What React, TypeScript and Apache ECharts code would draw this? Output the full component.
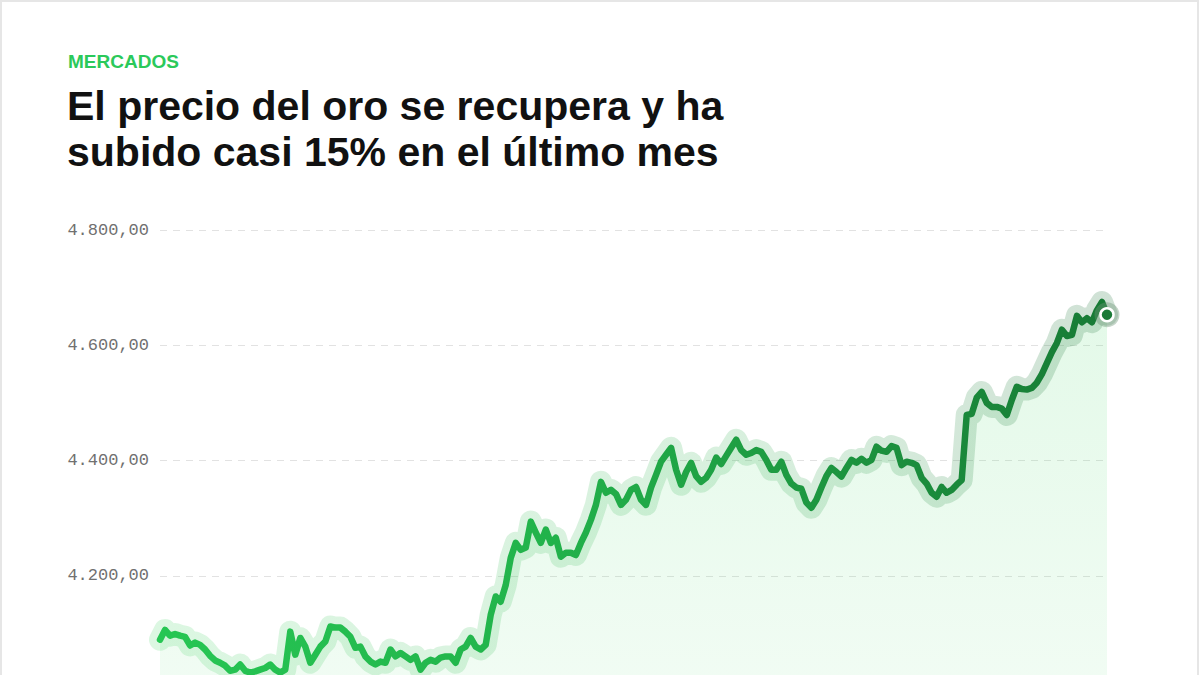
import React, { useEffect, useRef } from "react";
import * as echarts from "echarts";

const kicker = "MERCADOS";
const titleLines = ["El precio del oro se recupera y ha", "subido casi 15% en el último mes"];

const yTicks = [4000, 4200, 4400, 4600, 4800];
const yTickLabels = ["4.000,00", "4.200,00", "4.400,00", "4.600,00", "4.800,00"];

const prices = [
  4089, 4106, 4096, 4099, 4096, 4094, 4079, 4084, 4080, 4072,
  4061, 4053, 4049, 4044, 4035, 4037, 4046, 4035, 4032, 4034,
  4037, 4040, 4046, 4037, 4032, 4037, 4103, 4063, 4092, 4077,
  4049, 4063, 4077, 4086, 4112, 4110, 4110, 4103, 4094, 4075,
  4077, 4060, 4051, 4046, 4051, 4049, 4072, 4060, 4066, 4060,
  4054, 4060, 4037, 4049, 4054, 4051, 4058, 4060, 4060, 4049,
  4072, 4077, 4092, 4077, 4072, 4080, 4132, 4164, 4155, 4184,
  4231, 4257, 4245, 4249, 4294, 4275, 4257, 4280, 4257, 4266,
  4233, 4240, 4240, 4236, 4257, 4275, 4297, 4323, 4363, 4344,
  4349, 4342, 4323, 4332, 4349, 4354, 4332, 4323, 4353, 4375,
  4398, 4410, 4422, 4384, 4358, 4380, 4396, 4373, 4363, 4370,
  4384, 4405, 4394, 4408, 4422, 4436, 4418, 4410, 4413, 4418,
  4415, 4401, 4384, 4384, 4398, 4375, 4360, 4353, 4351, 4327,
  4318, 4332, 4353, 4373, 4387, 4380, 4372, 4387, 4401, 4396,
  4403, 4396, 4401, 4424, 4417, 4415, 4425, 4422, 4392, 4398,
  4396, 4392, 4370, 4360, 4344, 4337, 4354, 4344, 4349, 4358,
  4366, 4479, 4481, 4509, 4519, 4500, 4493, 4493, 4490, 4479,
  4505, 4528, 4524, 4523, 4526, 4535, 4550, 4569, 4588, 4604,
  4627, 4616, 4618, 4651, 4640, 4647, 4640, 4661, 4675, 4653,
];

const categories = prices.map((_, i) => String(i + 1));

export default function App() {
  const ref = useRef<HTMLDivElement>(null);

  useEffect(() => {
    document.body.style.margin = "0";
    document.body.style.overflow = "hidden";
    document.documentElement.style.overflow = "hidden";
    if (!ref.current) return;
    const chart = echarts.init(ref.current, undefined, { renderer: "svg" });
    const lastIdx = prices.length - 1;
    const lastVal = prices[lastIdx];

    chart.setOption({
      animation: false,
      backgroundColor: "#ffffff",
      grid: { left: 160, right: 93, top: 230, bottom: 29 },
      xAxis: {
        type: "category",
        data: categories,
        boundaryGap: false,
        axisLine: { show: false },
        axisTick: { show: false },
        axisLabel: { show: false },
        splitLine: { show: false },
      },
      yAxis: {
        type: "value",
        min: yTicks[0],
        max: yTicks[yTicks.length - 1],
        interval: 200,
        axisLine: { show: false },
        axisTick: { show: false },
        axisLabel: {
          margin: 11,
          color: "#707070",
          fontSize: 17,
          fontFamily: "Liberation Mono",
          showMinLabel: false,
          formatter: (v: number) => {
            const i = yTicks.indexOf(v);
            return i > 0 ? yTickLabels[i] : "";
          },
        },
        splitLine: {
          show: true,
          lineStyle: { color: "#e2e2e2", width: 1, type: [7, 6] },
        },
      },
      graphic: [
        {
          type: "rect",
          shape: { x: 1, y: 1, width: 1197, height: 760 },
          style: { fill: "none", stroke: "#e6e6e6", lineWidth: 2 },
          silent: true,
          z: 100,
        },
        {
          type: "text",
          x: 68,
          y: 61,
          style: {
            text: kicker,
            fill: "#2bc95a",
            font: 'bold 19px "Liberation Sans", Arial, sans-serif',
            verticalAlign: "middle",
          },
        },
        {
          type: "text",
          x: 67,
          y: 106,
          style: {
            text: titleLines[0],
            fill: "#111111",
            font: 'bold 41px "Liberation Sans", Arial, sans-serif',
            verticalAlign: "middle",
          },
        },
        {
          type: "text",
          x: 67,
          y: 152,
          style: {
            text: titleLines[1],
            fill: "#111111",
            font: 'bold 41px "Liberation Sans", Arial, sans-serif',
            verticalAlign: "middle",
          },
        },
      ],
      series: [
        {
          type: "line",
          data: prices,
          symbol: "none",
          silent: true,
          lineStyle: {
            width: 22,
            cap: "round",
            join: "round",
            color: new echarts.graphic.LinearGradient(0, 0, 1, 0, [
              { offset: 0, color: "rgba(80,215,110,0.2)" },
              { offset: 0.6, color: "rgba(60,180,90,0.2)" },
              { offset: 1, color: "rgba(40,120,65,0.22)" },
            ]),
          },
          areaStyle: {
            origin: "start",
            color: new echarts.graphic.LinearGradient(0, 0, 0, 1, [
              { offset: 0, color: "rgba(90,220,120,0.24)" },
              { offset: 1, color: "rgba(90,220,120,0.12)" },
            ]),
          },
          z: 1,
        },
        {
          type: "line",
          data: prices,
          symbol: "none",
          silent: true,
          lineStyle: {
            width: 6.5,
            cap: "round",
            join: "round",
            color: new echarts.graphic.LinearGradient(0, 0, 1, 0, [
              { offset: 0, color: "#26c653" },
              { offset: 0.4, color: "#22b34b" },
              { offset: 0.7, color: "#1d9640" },
              { offset: 1, color: "#177a35" },
            ]),
          },
          markPoint: {
            silent: true,
            animation: false,
            label: { show: false },
            data: [
              {
                coord: [lastIdx, lastVal],
                symbol: "circle",
                symbolSize: 25,
                itemStyle: { color: "rgba(110,150,120,0.4)" },
              },
              {
                coord: [lastIdx, lastVal],
                symbol: "circle",
                symbolSize: 13,
                itemStyle: { color: "#1a7a36", borderColor: "#ffffff", borderWidth: 2.5 },
              },
            ],
          },
          z: 3,
        },
      ],
    });

    return () => chart.dispose();
  }, []);

  return (
    <div style={{ width: 1200, height: 675, overflow: "hidden" }}>
      <div ref={ref} style={{ width: 1200, height: 720 }} />
    </div>
  );
}
